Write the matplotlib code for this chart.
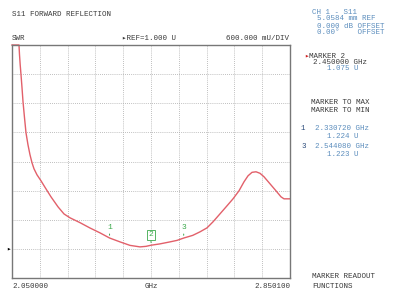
import matplotlib
matplotlib.use('Agg')
import matplotlib.pyplot as plt
import numpy as np

W, H = 396, 292

# trace (GHz, SWR units)
freq_ghz = [2.0500, 2.0701, 2.0716, 2.0736, 2.0759, 2.0788, 2.0817, 2.0860,
            2.0903, 2.0960, 2.1018, 2.1076, 2.1133, 2.1219, 2.1335, 2.1450,
            2.1622, 2.1824, 2.1996, 2.2169, 2.2457, 2.2745, 2.3032, 2.3307,
            2.3608, 2.3896, 2.4183, 2.4356, 2.4500, 2.4759, 2.5047, 2.5249,
            2.5441, 2.5700, 2.5910, 2.6112, 2.6284, 2.6486, 2.6687, 2.6860,
            2.7032, 2.7176, 2.7292, 2.7407, 2.7522, 2.7637, 2.7752, 2.7925,
            2.8097, 2.8241, 2.8327, 2.8500]
swr = [5.20, 5.20, 5.00, 4.79, 4.59, 4.32, 4.03, 3.70,
       3.39, 3.144, 2.938, 2.773, 2.650, 2.526, 2.402, 2.268,
       2.072, 1.866, 1.72, 1.64, 1.54, 1.43, 1.33, 1.224,
       1.144, 1.072, 1.041, 1.052, 1.075, 1.103, 1.144, 1.175,
       1.223, 1.278, 1.351, 1.433, 1.557, 1.722, 1.887, 2.031,
       2.196, 2.381, 2.505, 2.577, 2.588, 2.557, 2.485, 2.340,
       2.196, 2.072, 2.031, 2.031]

marker_names = ['1', '2', '3']
marker_freq = [2.330720, 2.450000, 2.544080]
marker_val = [1.224, 1.075, 1.223]

start_label = '2.050000'
stop_label = '2.850100'
ref_value = 1.0
per_div = 0.6

BLUE = '#5b8dbd'
DARK = '#3a3a3a'
TRACE = '#e2606a'
GREEN = '#3aa84a'
MONO = ['Liberation Mono', 'DejaVu Sans Mono', 'DejaVu Sans']
FS = 5.4


def px(x, y):
    return x / W, 1 - y / H


def label(x, y, s, color=DARK, ha='left'):
    fig.text(*px(x, y), s, color=color, ha=ha, va='center',
             family=MONO, fontsize=FS)


fig = plt.figure(figsize=(W / 100, H / 100), dpi=100)
ax = fig.add_axes([12 / W, 14 / H, 278 / W, 233 / H])

ax.plot(freq_ghz, swr, color=TRACE, lw=1.0, solid_joinstyle='round',
        clip_on=False)

x0, x1 = freq_ghz[0], freq_ghz[-1]
y0 = ref_value - per_div
y1 = ref_value + 7 * per_div
ax.set_xlim(x0, x1)
ax.set_ylim(y0, y1)
ax.set_xticks(np.linspace(x0, x1, 11))
ax.set_yticks(np.linspace(y0, y1, 9))
ax.tick_params(length=0, labelbottom=False, labelleft=False)
ax.grid(True, color='#aaaaaa', lw=0.6, linestyle=(0, (1, 1.5)))
for s in ax.spines.values():
    s.set_color('#777777')
    s.set_linewidth(1.0)

# markers on the trace
for name, f, v in zip(marker_names, marker_freq, marker_val):
    ax.annotate('', xy=(f, v), xytext=(f, v + 0.14),
                arrowprops=dict(arrowstyle='-', color=GREEN, lw=0.7))
    box = None
    if name == '2':
        box = dict(boxstyle='square,pad=0.15', fc='white', ec=GREEN, lw=0.6)
    ax.text(f, v + 0.14, name, color=GREEN, ha='center', va='bottom',
            family=MONO, fontsize=FS + 0.4, bbox=box)

# header
label(12, 15, 'S11 FORWARD REFLECTION')
label(12, 38, 'SWR')
label(122, 38, '▸REF=1.000 U')
label(289, 38, '600.000 mU/DIV', ha='right')
fig.text(*px(6, 249), '▸', color='black', ha='left', va='center',
         family=MONO, fontsize=FS)

# bottom
label(12, 287, start_label)
label(151, 287, 'GHz', ha='center')
label(290, 287, stop_label, ha='right')

# side panel
label(312, 12, 'CH 1 - S11', BLUE)
label(317, 19, '5.0584 mm REF', BLUE)
label(317, 26, '0.000 dB OFFSET', BLUE)
label(317, 32, '0.00°    OFFSET', BLUE)

fig.text(*px(304, 56), '▸', color='#d02020', ha='left', va='center',
         family=MONO, fontsize=FS)
label(309, 56, 'MARKER 2')
label(313, 63, '2.450000 GHz')
label(327, 69, '1.075 U', BLUE)

label(311, 102, 'MARKER TO MAX')
label(311, 110, 'MARKER TO MIN')

label(301, 129, '1', '#2a4a7a')
label(315, 129, '2.330720 GHz', BLUE)
label(327, 137, '1.224 U', BLUE)
label(301, 147, '3', '#2a4a7a')
label(315, 147, '2.544080 GHz', BLUE)
label(327, 155, '1.223 U', BLUE)

label(312, 277, 'MARKER READOUT')
label(312, 286, 'FUNCTIONS')

fig.savefig('out.png', dpi=100)
